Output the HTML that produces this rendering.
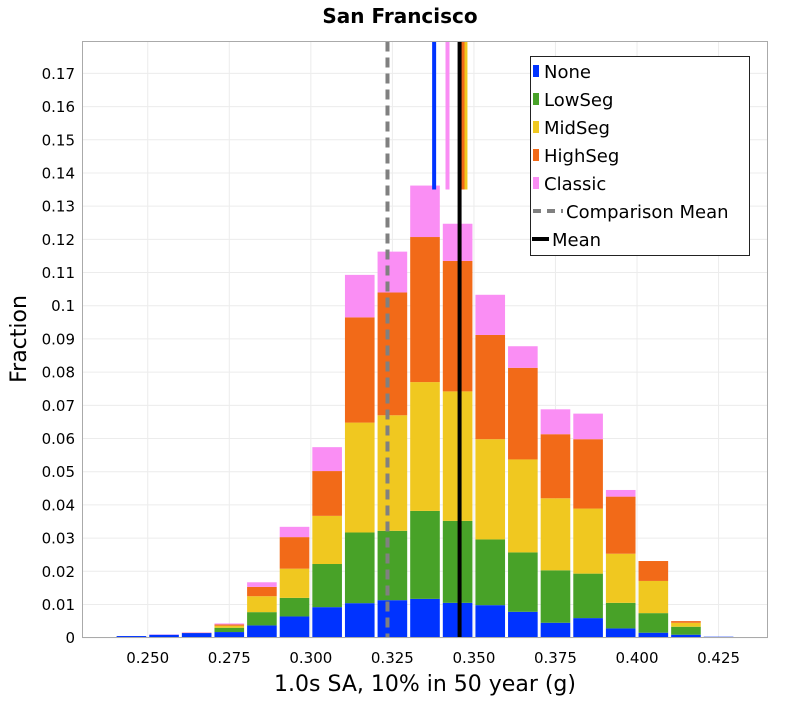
<!DOCTYPE html>
<html><head><meta charset="utf-8"><style>
body{margin:0;background:#fff;}
svg text{font-family:"DejaVu Sans","Liberation Sans",sans-serif;}
</style></head><body>
<svg id="chart" width="800" height="700" xmlns="http://www.w3.org/2000/svg">
<text x="400" y="23" text-anchor="middle" font-size="20" font-weight="bold">San Francisco</text>
<g id="grid"></g>
<g id="bars"></g>
<g id="vlines"></g>
<rect x="82.5" y="41.5" width="685" height="596" fill="none" stroke="#aaa" stroke-width="1"/>
<g id="yticks"></g>
<g id="xticks"></g>
<text x="425" y="691" text-anchor="middle" font-size="22">1.0s SA, 10% in 50 year (g)</text>
<text transform="translate(26,339) rotate(-90)" text-anchor="middle" font-size="22">Fraction</text>
<g>
<rect x="530.5" y="56.5" width="219" height="199" fill="#fff" stroke="#222" stroke-width="1"/>
<g id="legend-items"></g>
</g>
</svg>
<script>
const binCenters=[0.235,0.245,0.255,0.265,0.275,0.285,0.295,0.305,0.315,0.325,0.335,0.345,0.355,0.365,0.375,0.385,0.395,0.405,0.415,0.425];
const seriesNames=["None","LowSeg","MidSeg","HighSeg","Classic"];
const noneVals=[0.0002,0.0005,0.0009,0.0014,0.0017,0.0037,0.0064,0.0092,0.0104,0.0113,0.0117,0.0105,0.0098,0.0078,0.0045,0.0059,0.0028,0.0015,0.0009,0.0003];
const lowVals=[0,0,0,0,0.0013,0.0040,0.0056,0.0130,0.0213,0.0209,0.0265,0.0247,0.0198,0.0179,0.0158,0.0134,0.0077,0.0059,0.0024,0];
const midVals=[0,0,0,0,0.0006,0.0048,0.0088,0.0145,0.0331,0.0348,0.0388,0.0390,0.0302,0.0280,0.0217,0.0196,0.0148,0.0097,0.0012,0];
const highVals=[0,0,0,0.0001,0.0004,0.0028,0.0095,0.0135,0.0317,0.0370,0.0437,0.0393,0.0314,0.0276,0.0193,0.0209,0.0172,0.0060,0.0005,0];
const classicVals=[0,0,0.0001,0.0001,0.0003,0.0014,0.0031,0.0072,0.0128,0.0123,0.0155,0.0112,0.0121,0.0065,0.0075,0.0077,0.0020,0,0,0];
const seriesMeans=[0.3378,0.3468,0.3474,0.3465,0.3419];
const comparisonMean=0.3235;
const overallMean=0.3456;
const yTicks=[0,0.01,0.02,0.03,0.04,0.05,0.06,0.07,0.08,0.09,0.1,0.11,0.12,0.13,0.14,0.15,0.16,0.17];
const yTickLabels=["0","0.01","0.02","0.03","0.04","0.05","0.06","0.07","0.08","0.09","0.1","0.11","0.12","0.13","0.14","0.15","0.16","0.17"];
const xTicks=[0.250,0.275,0.300,0.325,0.350,0.375,0.400,0.425];
const xTickLabels=["0.250","0.275","0.300","0.325","0.350","0.375","0.400","0.425"];
const binWidth=0.01;

const colors=["#0033ff","#48a228","#f0c820","#f26a18","#fa8ef4"];
const X0=82.5,X1=767.5,Y0=637.7,Y1=41.5,XMIN=0.23,XMAX=0.44,YMAX=0.1796;
const x=v=>X0+(v-XMIN)/(XMAX-XMIN)*(X1-X0);
const y=v=>Y0-v/YMAX*(Y0-Y1);
const NS="http://www.w3.org/2000/svg";
function mk(tag,parent,attrs){const e=document.createElementNS(NS,tag);for(const k in attrs)e.setAttribute(k,attrs[k]);parent.appendChild(e);return e;}
const grid=document.getElementById('grid');
yTicks.forEach((t,i)=>{
 const l=mk('line',grid,{x1:X0,x2:X1,y1:y(t),y2:y(t),stroke:'#ececec','stroke-width':1});
 
 
 const tx=mk('text',document.getElementById('yticks'),{x:75,y:y(t)+5.5,'text-anchor':'end','font-size':15});
 tx.textContent=yTickLabels[i];
 
 
});
xTicks.forEach((t,i)=>{
 const l=mk('line',grid,{x1:x(t),x2:x(t),y1:Y1,y2:Y0,stroke:'#ececec','stroke-width':1});
 
 
 const tx=mk('text',document.getElementById('xticks'),{x:x(t),y:663,'text-anchor':'middle','font-size':15});
 tx.textContent=xTickLabels[i];
 
 
});
const series=[noneVals,lowVals,midVals,highVals,classicVals];
const bars=document.getElementById('bars');
binCenters.forEach((c,i)=>{
 let cum=0;
 const bw=x(c+binWidth/2)-x(c-binWidth/2)-3;
 series.forEach((s,k)=>{
  const v=s[i]; if(v<=0)return;
  const r=mk('rect',bars,{x:x(c)-bw/2,y:y(cum+v),width:bw,height:y(cum)-y(cum+v),fill:colors[k]});
  
  
  cum+=v;
 });
});
const vl=document.getElementById('vlines');
const cm=mk('line',vl,{x1:x(comparisonMean),x2:x(comparisonMean),y1:Y1,y2:Y0,stroke:'#808080','stroke-width':4,'stroke-dasharray':'10,6'});


const order=[0,4,2,3,1];
order.forEach(k=>{
 if(k===1)return;
 const l=mk('line',vl,{x1:x(seriesMeans[k]),x2:x(seriesMeans[k]),y1:Y1,y2:y(0.135),stroke:colors[k],'stroke-width':4});
 
 
});
const ml=mk('line',vl,{x1:x(overallMean),x2:x(overallMean),y1:Y1,y2:Y0,stroke:'#000','stroke-width':4});


const lg=document.getElementById('legend-items');
const labels=seriesNames.concat(["Comparison Mean","Mean"]);
labels.forEach((lab,i)=>{
 const cy=71+i*28;
 const g=mk('g',lg,{});
 
 
 if(i<5){mk('rect',g,{x:533,y:cy-6,width:6,height:12,fill:colors[i]});
  const t=mk('text',g,{x:544,y:cy+7,'font-size':18});t.textContent=lab;}
 else if(i===5){mk('line',g,{x1:533,x2:563,y1:cy,y2:cy,stroke:'#808080','stroke-width':4,'stroke-dasharray':'8,6'});
  const t=mk('text',g,{x:566,y:cy+7,'font-size':18});t.textContent=lab;}
 else {mk('line',g,{x1:532,x2:549,y1:cy,y2:cy,stroke:'#000','stroke-width':4});
  const t=mk('text',g,{x:552,y:cy+7,'font-size':18});t.textContent=lab;}
});
</script>
</body></html>
